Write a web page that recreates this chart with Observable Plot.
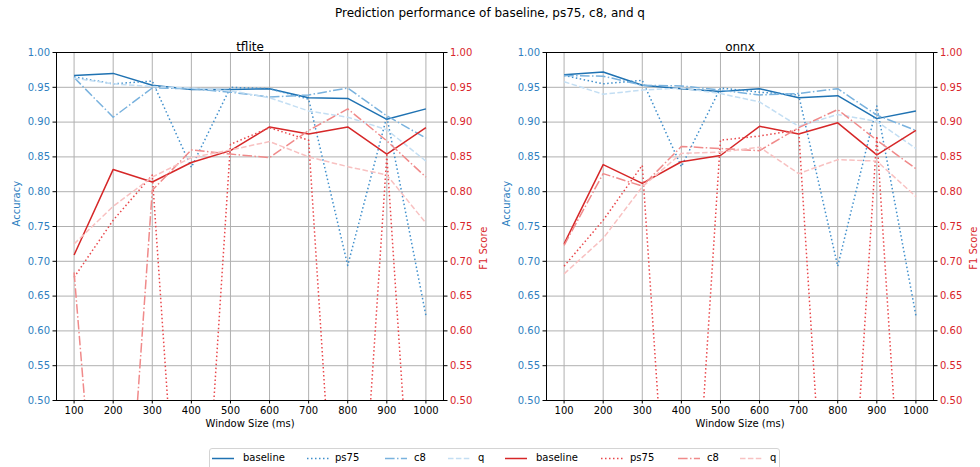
<!DOCTYPE html>
<html>
<head>
<meta charset="utf-8">
<script src="https://cdn.jsdelivr.net/npm/d3@7"></script>
<script src="https://cdn.jsdelivr.net/npm/@observablehq/plot@0.6"></script>
<style>
  html, body { margin: 0; padding: 0; background: white; overflow: hidden; }
  #fig { position: relative; width: 980px; height: 467px; font-family: "DejaVu Sans", sans-serif; color: #000; }
  #fig svg { position: absolute; top: 0; overflow: visible; }
  #title { position: absolute; left: 0; width: 980px; top: 6px; text-align: center; font-size: 12px; line-height: 14px; }
  #legend { position: absolute; left: 209px; top: 448px; width: 571px; height: 26px; border: 1px solid #d4d4d4; border-radius: 3px; box-sizing: border-box; }
  .lg-item { position: absolute; top: 452px; height: 12px; font-size: 10px; line-height: 12px; white-space: nowrap; }
  .lg-item svg { position: absolute; top: 0; left: 0; }
  .lg-item span { position: absolute; top: 0; }
</style>
</head>
<body>
<div id="fig">
  <div id="title">Prediction performance of baseline, ps75, c8, and q</div>
  <div id="legend"></div>
</div>
<script>
// Window sizes (ms) on the x axis
const windows = [100, 200, 300, 400, 500, 600, 700, 800, 900, 1000];
const yTicks = [0.50, 0.55, 0.60, 0.65, 0.70, 0.75, 0.80, 0.85, 0.90, 0.95, 1.00];
const variants = ["baseline", "ps75", "c8", "q"];

// tflite — accuracy
const tfliteAccBaseline = [0.967, 0.970, 0.953, 0.947, 0.947, 0.948, 0.935, 0.934, 0.904, 0.919];
const tfliteAccPs75     = [0.965, 0.955, 0.959, 0.835, 0.950, 0.948, 0.933, 0.694, 0.908, 0.622];
const tfliteAccC8       = [0.964, 0.907, 0.949, 0.948, 0.943, 0.936, 0.939, 0.949, 0.909, 0.877];
const tfliteAccQ        = [0.963, 0.955, 0.951, 0.949, 0.945, 0.935, 0.916, 0.907, 0.889, 0.844];
// tflite — F1 score
const tfliteF1Baseline = [0.709, 0.832, 0.814, 0.842, 0.859, 0.893, 0.883, 0.893, 0.854, 0.892];
const tfliteF1Ps75     = [0.677, 0.759, 0.824, 0.000, 0.868, 0.892, 0.874, 0.000, 0.852, 0.000];
const tfliteF1C8       = [0.684, 0.000, 0.802, 0.860, 0.854, 0.849, 0.888, 0.919, 0.873, 0.821];
const tfliteF1Q        = [0.725, 0.779, 0.821, 0.849, 0.860, 0.872, 0.850, 0.836, 0.824, 0.755];

// onnx — accuracy
const onnxAccBaseline = [0.968, 0.972, 0.953, 0.948, 0.944, 0.948, 0.935, 0.938, 0.905, 0.916];
const onnxAccPs75     = [0.967, 0.955, 0.960, 0.836, 0.949, 0.943, 0.939, 0.693, 0.923, 0.622];
const onnxAccC8       = [0.967, 0.966, 0.953, 0.952, 0.946, 0.939, 0.941, 0.948, 0.910, 0.888];
const onnxAccQ        = [0.958, 0.940, 0.946, 0.949, 0.941, 0.929, 0.894, 0.911, 0.901, 0.862];
// onnx — F1 score
const onnxF1Baseline = [0.725, 0.839, 0.812, 0.843, 0.852, 0.894, 0.883, 0.899, 0.853, 0.888];
const onnxF1Ps75     = [0.693, 0.759, 0.838, 0.000, 0.874, 0.880, 0.889, 0.000, 0.880, 0.000];
const onnxF1C8       = [0.723, 0.826, 0.808, 0.865, 0.862, 0.859, 0.892, 0.918, 0.874, 0.833];
const onnxF1Q        = [0.682, 0.733, 0.807, 0.855, 0.857, 0.864, 0.826, 0.846, 0.844, 0.793];

const blueAxis = "#2f7fbf";
const redAxis = "#d9262b";
const blues = ["#1f72b2", "#3f8fcc", "#79b2de", "#c3def3"];
const reds  = ["#d62728", "#e9474b", "#f08a8a", "#f8c1c1"];
const dashes = [null, "1.5,2.5", "9.6,2.4,1.5,2.4", "5.5,2.4"];

function seriesLines(seriesList, colors) {
  return seriesList.map((vals, k) => Plot.line(vals, {
    x: (d, i) => windows[i],
    y: d => d,
    stroke: colors[k],
    strokeWidth: 1.5,
    strokeDasharray: dashes[k] ?? undefined,
    strokeLinecap: "butt",
    strokeLinejoin: "round",
    clip: true
  }));
}

function panel(name, accList, f1List, left) {
  const chart = Plot.plot({
    width: 490,
    height: 440,
    marginLeft: 56,
    marginRight: 47,
    marginTop: 52,
    marginBottom: 40,
    style: { fontFamily: "DejaVu Sans, sans-serif", fontSize: "10px", background: "transparent" },
    x: { domain: [55, 1045], label: null },
    y: { domain: [0.5, 1.0], label: null },
    marks: [
      Plot.gridX(windows, { stroke: "#b0b0b0", strokeOpacity: 1, strokeWidth: 1 }),
      Plot.gridY(yTicks, { stroke: "#b0b0b0", strokeOpacity: 1, strokeWidth: 1 }),
      ...seriesLines(accList, blues),
      ...seriesLines(f1List, reds),
      Plot.frame({ stroke: "black", strokeWidth: 1 }),
      Plot.axisX(windows, { tickSize: 3.5, tickPadding: 3, stroke: "black", fill: "black", tickFormat: d => String(d), label: null }),
      Plot.axisY(yTicks, { anchor: "left", tickSize: 3.5, tickPadding: 3, stroke: "black", fill: blueAxis, tickFormat: d3.format(".2f"), label: null }),
      Plot.axisY(yTicks, { anchor: "right", tickSize: 3.5, tickPadding: 3, stroke: "black", fill: redAxis, tickFormat: d3.format(".2f"), label: null }),
      Plot.text([name], { frameAnchor: "top", dy: -10, fontSize: 12, fill: "black" }),
      Plot.text(["Window Size (ms)"], { frameAnchor: "bottom", dy: 26, fontSize: 10, fill: "black" }),
      Plot.text(["Accuracy"], { frameAnchor: "left", dx: -40, rotate: -90, fontSize: 10, fill: blueAxis }),
      Plot.text(["F1 Score"], { frameAnchor: "right", dx: 40, rotate: -90, fontSize: 10, fill: redAxis })
    ]
  });
  chart.style.left = left + "px";
  document.getElementById("fig").insertBefore(chart, document.getElementById("title"));
}

panel("tflite", [tfliteAccBaseline, tfliteAccPs75, tfliteAccC8, tfliteAccQ],
                [tfliteF1Baseline, tfliteF1Ps75, tfliteF1C8, tfliteF1Q], 0);
panel("onnx", [onnxAccBaseline, onnxAccPs75, onnxAccC8, onnxAccQ],
              [onnxF1Baseline, onnxF1Ps75, onnxF1C8, onnxF1Q], 490);

// Legend below both panels: accuracy styles first, then F1 styles
const legendSlots = [
  [212, 243], [307, 335], [385, 414], [448, 478],
  [505, 536], [601, 630], [678, 707], [740, 770]
];
const fig = document.getElementById("fig");
legendSlots.forEach(([sx, tx], j) => {
  const k = j % 4;
  const color = j < 4 ? blues[k] : reds[k];
  const item = document.createElement("div");
  item.className = "lg-item";
  item.style.left = sx + "px";
  const dash = dashes[k] ? ` stroke-dasharray="${dashes[k]}"` : "";
  item.innerHTML = `<svg width="24" height="12"><line x1="0" x2="22" y1="6.5" y2="6.5" stroke="${color}" stroke-width="1.5"${dash}/></svg>` +
    `<span style="left:${tx - sx}px">${variants[k]}</span>`;
  fig.appendChild(item);
});
</script>
</body>
</html>
